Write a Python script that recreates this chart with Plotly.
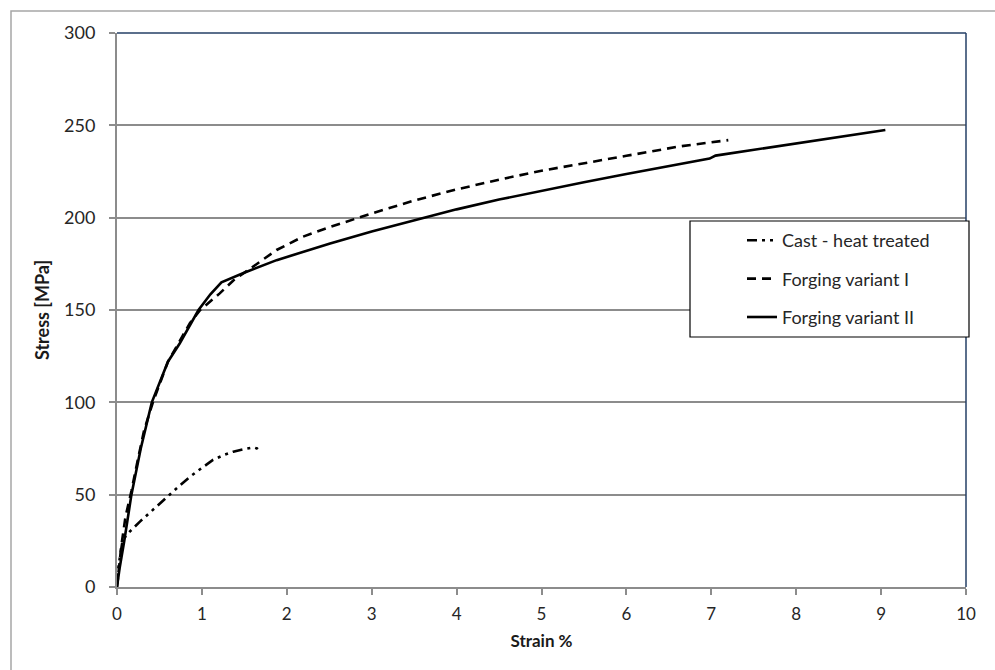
import plotly.graph_objects as go

# Stress-strain curves (strain in %, stress in MPa)
cast_strain = [0.0, 0.02, 0.067, 0.15, 0.27, 0.40, 0.51, 0.62, 0.74, 0.86, 1.00, 1.13, 1.25, 1.37, 1.48, 1.55, 1.61, 1.65, 1.68]
cast_stress = [2.0, 12.0, 25.5, 30.0, 35.4, 41.0, 45.3, 50.0, 55.0, 59.7, 64.5, 68.8, 71.3, 73.3, 74.5, 75.1, 75.6, 75.0, 73.8]

forg1_strain = [0.0, 0.02, 0.05, 0.10, 0.17, 0.25, 0.32, 0.43, 0.60, 0.86, 0.98, 1.21, 1.37, 1.60, 1.88, 2.19, 2.50, 3.00, 3.50, 4.00, 4.50, 5.00, 5.50, 6.00, 6.63, 7.00, 7.20]
forg1_stress = [0.0, 8.0, 22.0, 38.0, 52.0, 70.0, 85.0, 101.0, 122.0, 143.0, 150.0, 159.0, 166.0, 173.4, 182.5, 189.7, 194.8, 202.3, 209.3, 215.3, 220.6, 225.4, 229.6, 233.5, 238.6, 241.0, 242.0]

forg2_strain = [0.0, 0.03, 0.086, 0.17, 0.28, 0.41, 0.60, 0.74, 0.96, 1.10, 1.23, 1.49, 1.88, 2.51, 3.00, 3.61, 4.00, 4.50, 5.00, 5.50, 6.00, 6.50, 6.98, 7.05, 7.50, 8.00, 8.50, 9.05]
forg2_stress = [0.0, 10.0, 25.0, 50.0, 75.0, 100.0, 122.0, 132.0, 150.0, 158.5, 165.0, 170.0, 177.0, 186.0, 192.5, 200.0, 204.5, 209.8, 214.7, 219.2, 223.6, 227.9, 232.0, 233.6, 236.8, 240.4, 243.9, 247.5]

x_ticks = [0, 1, 2, 3, 4, 5, 6, 7, 8, 9, 10]
y_ticks = [0, 50, 100, 150, 200, 250, 300]

FONT = "Lato, 'Open Sans', sans-serif"
GRID = "#8c8c8c"
BORDER = "#243f66"
TEXT = "#262626"

fig = go.Figure()

fig.add_trace(go.Scatter(
    x=cast_strain, y=cast_stress, mode="lines", name="Cast - heat treated",
    legendgroup="a",
    line=dict(color="black", width=2.6, dash="10px,5px,3px,5px,3px,5px"),
))
fig.add_trace(go.Scatter(
    x=forg1_strain, y=forg1_stress, mode="lines", name="Forging variant I",
    legendgroup="b",
    line=dict(color="black", width=2.6, dash="9px,6px"),
))
fig.add_trace(go.Scatter(
    x=forg2_strain, y=forg2_stress, mode="lines", name="Forging variant II",
    legendgroup="c",
    line=dict(color="black", width=2.6),
))

W, H = 995, 670
ML, MR, MT, MB = 117, 29, 33, 83
PW, PH = W - ML - MR, H - MT - MB


def px_x(p):
    return (p - ML) / PW


def px_y(p):
    return (H - MB - p) / PH


shapes = [
    # outer chart frame
    dict(type="rect", xref="paper", yref="paper",
         x0=px_x(11), x1=px_x(1100), y0=px_y(900), y1=px_y(11),
         line=dict(color="#a6a6a6", width=1.5), fillcolor="rgba(0,0,0,0)", layer="below"),
    # top and right plot border
    dict(type="line", xref="paper", yref="paper", x0=0, x1=1, y0=1, y1=1,
         line=dict(color=BORDER, width=1.5), layer="above"),
    dict(type="line", xref="paper", yref="paper", x0=1, x1=1, y0=0, y1=1,
         line=dict(color=BORDER, width=1.5), layer="above"),
    # legend box
    dict(type="rect", xref="paper", yref="paper",
         x0=px_x(690), x1=px_x(969), y0=px_y(337), y1=px_y(221),
         line=dict(color="black", width=1.2), fillcolor="white", layer="above"),
]

fig.update_layout(
    width=W, height=H,
    margin=dict(l=ML, r=MR, t=MT, b=MB),
    paper_bgcolor="white", plot_bgcolor="white",
    font=dict(family=FONT, size=17, color=TEXT),
    shapes=shapes,
    showlegend=True,
    legend=dict(
        x=px_x(742), y=px_y(222), xanchor="left", yanchor="top",
        bgcolor="rgba(0,0,0,0)", borderwidth=0,
        font=dict(family=FONT, size=18, color=TEXT),
        tracegroupgap=12, traceorder="grouped",
    ),
    xaxis=dict(
        range=[0, 10], tickvals=x_ticks, ticktext=[str(v) for v in x_ticks],
        showgrid=False, zeroline=False,
        showline=True, linecolor="#8c8c8c", linewidth=2,
        ticks="outside", ticklen=6, tickwidth=1.5, tickcolor="#8c8c8c",
        tickfont=dict(family=FONT, size=17, color=TEXT),
        ticklabelstandoff=5,
        title=dict(text="<b>Strain %</b>", font=dict(family=FONT, size=17, color="#1a1a1a"), standoff=12),
    ),
    yaxis=dict(
        range=[0, 300], tickvals=y_ticks, ticktext=[str(v) for v in y_ticks],
        showgrid=True, gridcolor=GRID, gridwidth=1.6, zeroline=False,
        showline=True, linecolor="#8c8c8c", linewidth=2,
        ticks="outside", ticklen=6, tickwidth=1.5, tickcolor="#8c8c8c",
        tickfont=dict(family=FONT, size=18, color=TEXT),
        ticklabelstandoff=10,
        title=dict(text="<b>Stress [MPa]</b>", font=dict(family=FONT, size=18, color="#1a1a1a"), standoff=10),
    ),
)

fig.write_html("out.html")
